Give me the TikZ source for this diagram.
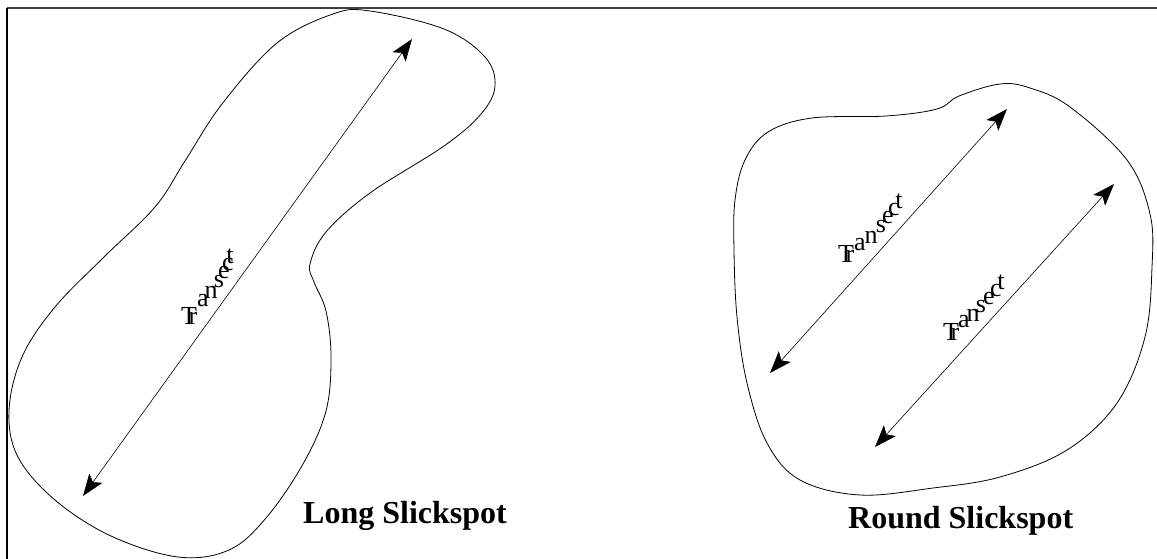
\documentclass[tikz,border=0pt]{standalone}
\usepackage{fontspec}
\setmainfont{Liberation Serif}
\usetikzlibrary{arrows.meta}
\begin{document}
\begin{tikzpicture}[x=1pt,y=-1pt,
  outline/.style={line width=0.8pt,black},
  transect/.style={line width=0.6pt,black,
    {Stealth[length=22pt,width=16pt,inset=5pt,fill=black]}-{Stealth[length=22pt,width=16pt,inset=5pt,fill=black]}},
  lab/.style={font=\fontsize{32}{36}\selectfont\bfseries,anchor=base,inner sep=0pt},
  ch/.style={font=\fontsize{26}{28}\selectfont,inner sep=0pt,anchor=center}]
\useasboundingbox (0,0) rectangle (1157,559);
% frame
\coordinate (fTL) at (7,8);
\coordinate (fTR) at (1157,8);
\coordinate (fBL) at (7,559);
\draw[line width=2pt,black!75] (fTL) -- (fTR);
\draw[line width=2pt,black] (fTL) -- (fBL);
% long slickspot
\draw[outline] plot[smooth cycle,tension=0.6] coordinates {(370,11) (444,29) (485,57) (495,86) (481,114) (444,146) (370,193) (326,232) (310,264) (314,282) (326,311) (331,357) (326,411) (303,464) (266,518) (229,550) (178,557) (111,536) (55,500) (18,457) (9,411) (22,357) (55,307) (104,257) (155,207) (185,161) (222,104) (277,43) (333,14)};
% round slickspot
\draw[outline] plot[smooth cycle,tension=0.6] coordinates {(1000,84) (959,96) (937,109) (886,116) (812,118) (768,132) (745,160) (735,200) (734,250) (737,317) (747,383) (767,443) (800,480) (860,495) (933,488) (1000,477) (1067,450) (1117,403) (1145,337) (1152,267) (1150,214) (1127,160) (1070,107) (1030,88)};
% transects
\coordinate (L1) at (83,496); \coordinate (L2) at (412,39);
\coordinate (R1a) at (770,373); \coordinate (R1b) at (1007,109);
\coordinate (R2a) at (875,447); \coordinate (R2b) at (1114,184);
\draw[transect] (L1) -- (L2);
\draw[transect] (R1a) -- (R1b);
\draw[transect] (R2a) -- (R2b);
% transect labels
\node[ch] (lT) at (189,316) {T}; \node[ch] (lr) at (193,318) {r};
\node[ch] (la) at (203,301) {a}; \node[ch] (ln) at (211,292) {n};
\node[ch] (ls) at (219,282) {s}; \node[ch] (le) at (224,273) {e};
\node[ch] (lc) at (228,265) {c}; \node[ch] (lt) at (230,256) {t};
\node[ch] (aT) at (846,254) {T}; \node[ch] (ar) at (850,256) {r};
\node[ch] (aa) at (860,245) {a}; \node[ch] (an) at (871,237) {n};
\node[ch] (as) at (881,227) {s}; \node[ch] (ae) at (888,218) {e};
\node[ch] (ac) at (894,210) {c}; \node[ch] (at) at (899,201) {t};
\node[ch] (bT) at (951,332) {T}; \node[ch] (br) at (955,334) {r};
\node[ch] (ba) at (964,322) {a}; \node[ch] (bn) at (973,315) {n};
\node[ch] (bs) at (981,307) {s}; \node[ch] (be) at (989,299) {e};
\node[ch] (bc) at (996,291) {c}; \node[ch] (bt) at (1001,282) {t};
% titles
\node[lab,anchor=base west] (long) at (303,523) {Long Slickspot};
\node[lab,anchor=base west] (round) at (848,528) {Round Slickspot};
\end{tikzpicture}
\end{document}
